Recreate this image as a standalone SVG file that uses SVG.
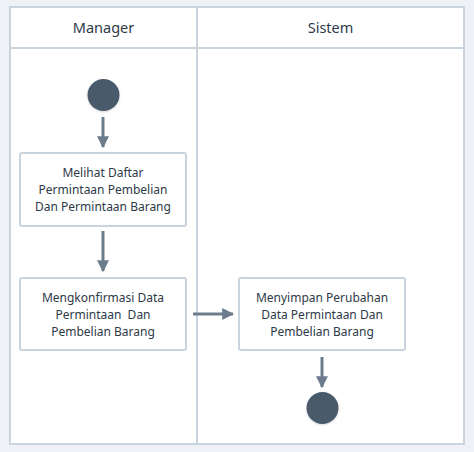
<svg xmlns="http://www.w3.org/2000/svg" width="474" height="452" viewBox="0 0 474 452">
<defs>
<marker id="ah" viewBox="0 0 10 10" refX="9" refY="5" markerWidth="4" markerHeight="4" orient="auto" markerUnits="strokeWidth">
<path d="M0,0 L10,5 L0,10 z" fill="#6d7c8c"/>
</marker>
<filter id="sh" x="-30%" y="-30%" width="160%" height="160%">
<feDropShadow dx="0" dy="1" stdDeviation="1" flood-color="#000" flood-opacity="0.15"/>
</filter>
</defs>
<style>
.lane{fill:#ffffff;stroke:#c9d4df;stroke-width:2}
.box{fill:#ffffff;stroke:#c9d4df;stroke-width:2}
.t{font-family:"Noto Sans","DejaVu Sans",sans-serif;font-size:12px;fill:#2e3a47;text-anchor:middle}
.h{font-family:"Noto Sans","DejaVu Sans",sans-serif;font-size:14.5px;fill:#2e3a47;text-anchor:middle}
.c{stroke:#6d7c8c;stroke-width:3;fill:none;marker-end:url(#ah)}
.dot{fill:#4a5a6a;filter:url(#sh)}
</style>
<rect width="474" height="452" fill="#eef2f6"/>
<g id="lanes">
<rect class="lane" x="10" y="7" width="187" height="437"/>
<rect class="lane" x="197" y="7" width="267" height="437"/>
<line x1="10" y1="48" x2="464" y2="48" stroke="#c9d4df" stroke-width="2"/>
<text class="h" x="103.5" y="33">Manager</text>
<text class="h" x="330.5" y="33">Sistem</text>
</g>
<g id="connectors">
<line class="c" x1="103" y1="117" x2="103" y2="147"/>
<line class="c" x1="103" y1="231" x2="103" y2="271"/>
<line class="c" x1="193" y1="314" x2="233" y2="314"/>
<line class="c" x1="322" y1="357" x2="322" y2="387"/>
</g>
<g id="start"><circle class="dot" cx="103.5" cy="95" r="16"/></g>
<g id="n1">
<rect class="box" x="20" y="153" width="166" height="73" rx="2"/>
<text class="t" x="103" y="177">Melihat Daftar</text>
<text class="t" x="103" y="194">Permintaan Pembelian</text>
<text class="t" x="103" y="211">Dan Permintaan Barang</text>
</g>
<g id="n2">
<rect class="box" x="20" y="278" width="166" height="72" rx="2"/>
<text class="t" x="103" y="302">Mengkonfirmasi Data</text>
<text class="t" x="103" y="319" xml:space="preserve">Permintaan  Dan</text>
<text class="t" x="103" y="336">Pembelian Barang</text>
</g>
<g id="n3">
<rect class="box" x="239" y="278" width="166" height="72" rx="2"/>
<text class="t" x="322" y="302">Menyimpan Perubahan</text>
<text class="t" x="322" y="319">Data Permintaan Dan</text>
<text class="t" x="322" y="336">Pembelian Barang</text>
</g>
<g id="end"><circle class="dot" cx="322.5" cy="408" r="16"/></g>
</svg>
